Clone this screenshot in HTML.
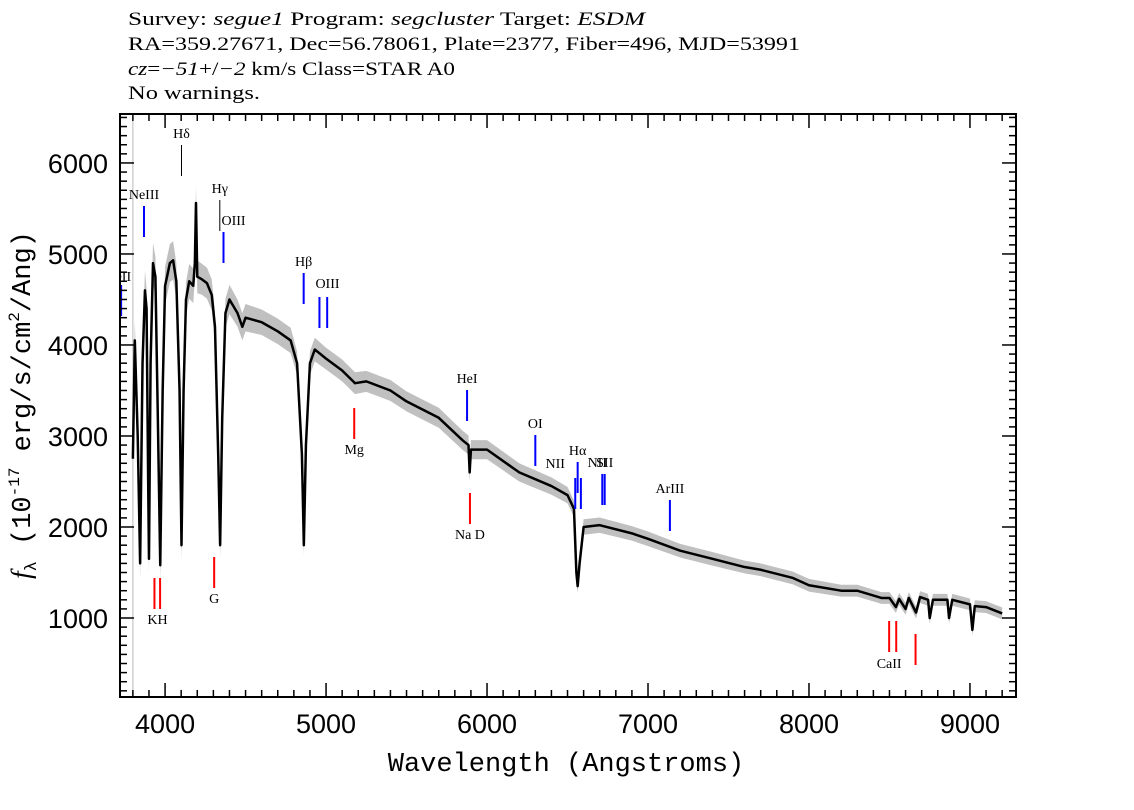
<!DOCTYPE html>
<html><head><meta charset="utf-8"><style>
body{margin:0;background:#fff;}
svg{display:block;}
</style></head><body>
<svg id="chart" width="1134" height="810" viewBox="0 0 1134 810" xmlns="http://www.w3.org/2000/svg">
<defs><clipPath id="pc"><rect x="120" y="114" width="896" height="583"/></clipPath></defs>
<g font-family="Liberation Serif, serif" font-size="19" fill="#000">
<text x="128" y="25" textLength="517" lengthAdjust="spacingAndGlyphs">Survey: <tspan font-style="italic">segue1</tspan> Program: <tspan font-style="italic">segcluster</tspan> Target: <tspan font-style="italic">ESDM</tspan></text>
<text x="128" y="50" textLength="672" lengthAdjust="spacingAndGlyphs">RA=359.27671, Dec=56.78061, Plate=2377, Fiber=496, MJD=53991</text>
<text x="128" y="75" textLength="327" lengthAdjust="spacingAndGlyphs"><tspan font-style="italic">cz</tspan>=<tspan font-style="italic">−51</tspan>+/<tspan font-style="italic">−2</tspan> km/s Class=STAR A0</text>
<text x="128" y="99" textLength="132" lengthAdjust="spacingAndGlyphs">No warnings.</text>
</g>
<g id="plot" clip-path="url(#pc)"></g>
<g id="ann" clip-path="url(#pc)" font-family="Liberation Serif, serif" font-size="14"></g>
<rect x="120" y="114" width="896" height="583" fill="none" stroke="#000" stroke-width="2"/>
<g id="axes"></g>
<text x="566" y="771" text-anchor="middle" font-family="Liberation Mono, monospace" font-size="27">Wavelength (Angstroms)</text>
<text transform="translate(30,405) rotate(-90)" text-anchor="middle" font-family="Liberation Mono, monospace" font-size="27"><tspan font-style="italic" font-family="Liberation Serif, serif">f</tspan><tspan font-size="17" dy="6">λ</tspan><tspan dy="-6"> (10</tspan><tspan font-size="16" dy="-11">-17</tspan><tspan dy="11"> erg/s/cm</tspan><tspan font-size="16" dy="-11">2</tspan><tspan dy="11">/Ang)</tspan></text>
</svg>
<script>
const waves=[3800,3812,3830,3845,3860,3875,3885,3895,3900,3910,3925,3940,3955,3970,3985,4000,4030,4050,4070,4090,4102,4115,4130,4150,4175,4185,4192,4200,4230,4260,4290,4310,4330,4342,4355,4375,4400,4450,4480,4500,4600,4700,4780,4820,4850,4862,4875,4900,4930,5000,5100,5180,5250,5400,5500,5700,5850,5885,5892,5900,6000,6200,6400,6500,6540,6555,6563,6575,6600,6700,6900,7000,7200,7400,7600,7700,7900,8000,8200,8300,8450,8500,8540,8560,8600,8620,8665,8690,8740,8750,8770,8860,8870,8890,9000,9015,9030,9100,9200];
const flux=[2750,4050,3000,1600,3800,4600,4400,2500,1650,3800,4900,4750,3200,1580,3500,4650,4900,4930,4700,3500,1800,3500,4500,4700,4650,4900,5560,4750,4720,4680,4550,4200,2800,1800,3200,4350,4500,4350,4200,4300,4250,4150,4050,3800,2800,1800,2900,3800,3950,3850,3720,3580,3600,3500,3380,3200,2950,2900,2600,2850,2850,2600,2450,2350,2200,1500,1350,1600,2000,2020,1930,1870,1740,1650,1560,1530,1440,1360,1300,1300,1220,1220,1120,1210,1100,1220,1060,1230,1200,1000,1200,1200,1000,1200,1150,870,1130,1120,1050];
const errs=[220,220,200,170,200,220,220,200,170,190,220,220,190,170,190,210,210,210,200,180,170,180,190,190,190,190,190,180,170,170,170,160,150,140,150,160,160,150,150,150,140,140,140,130,120,110,120,130,130,120,120,120,115,115,110,110,105,105,100,105,105,100,95,90,90,80,75,80,85,85,80,80,75,75,70,70,70,70,65,65,65,65,65,65,65,65,65,65,65,65,65,65,65,65,65,65,65,65,65];
const xTicks=[4000,5000,6000,7000,8000,9000];
const yTicks=[1000,2000,3000,4000,5000,6000];
const lineWaves=[3727,3869,4102,4340,4363,4861,4959,5007,5876,6300,6548,6563,6583,6716,6731,7136,3934,3969,4305,5175,5894,8498,8542,8662];
const lineNames=["OII","NeIII","Hδ","Hγ","OIII","Hβ","OIII","","HeI","OI","NII","Hα","","NII","SII","ArIII","K","H","G","Mg","Na  D","CaII","",""];
const lineKinds=["b","b","k","k","b","b","b","b","b","b","b","b","b","b","b","b","r","r","r","r","r","r","r","r"];
const lineTop=[285,206,145,200,232,273,297,297,390,435,478,462,478,474,474,500,578,578,557,408,493,621,621,634];
const xmin=3720,xmax=9286,ymin=132,ymax=6538;
const X=w=>120+(w-xmin)/(xmax-xmin)*896;
const Y=f=>697-(f-ymin)/(ymax-ymin)*583;
const NS="http://www.w3.org/2000/svg";
function mk(t,a,p){const e=document.createElementNS(NS,t);for(const k in a)e.setAttribute(k,a[k]);p.appendChild(e);return e;}
const plot=document.getElementById('plot'),axes=document.getElementById('axes'),ann=document.getElementById('ann');
const gl=mk('line',{x1:X(3800),x2:X(3800),y1:114,y2:697,stroke:'#bbb','stroke-width':1},plot);


let up=waves.map((w,i)=>X(w)+','+Y(flux[i]+errs[i])).join(' ');
let dn=waves.map((w,i)=>X(w)+','+Y(flux[i]-errs[i])).reverse().join(' ');
const band=mk('polygon',{points:up+' '+dn,fill:'#c0c0c0'},plot);


const sp=mk('polyline',{points:waves.map((w,i)=>X(w)+','+Y(flux[i])).join(' '),fill:'none',stroke:'#000','stroke-width':2.5,'stroke-linejoin':'round'},plot);


const col={b:'#0000ff',k:'#000',r:'#ff0000'};
lineWaves.forEach((w,i)=>{
 const x=X(w),t=lineTop[i],k=lineKinds[i];
 const l=mk('line',{x1:x,x2:x,y1:t,y2:t+31,stroke:col[k],'stroke-width':k=='k'?1:2},ann);
 
 
 if(lineNames[i]){
  let ty=k=='r'?t+46:t-7;
  if(lineNames[i]=="H")return;
  const tx=mk('text',{x:x,y:ty,'text-anchor':'middle'},ann);
  tx.textContent=lineNames[i]=="K"?"KH":lineNames[i];
  if(lineNames[i]=="K"){tx.setAttribute('x',x+3);}
  if(lineNames[i]=="OIII"&&w==4363){tx.setAttribute('text-anchor','start');tx.setAttribute('x',x-2);}
  if(lineNames[i]=="OIII"&&w==4959){tx.setAttribute('text-anchor','start');tx.setAttribute('x',x-4);tx.setAttribute('y',t-9);}
  if(lineNames[i]=="OII"){tx.setAttribute('text-anchor','end');tx.setAttribute('x',x+10);tx.setAttribute('y',t-4);}
  if(lineNames[i]=="NII"&&w==6548){tx.setAttribute('x',x-20);tx.setAttribute('y',t-10);}
  if(lineNames[i]=="NII"&&w==6716){tx.setAttribute('x',x-5);}
  if(lineNames[i]=="CaII"){tx.setAttribute('x',x);tx.setAttribute('y',t+47);}
  if(lineNames[i]=="Na  D"){tx.setAttribute('xml:space','preserve');}
  
  
 }
});
for(let w=3800;w<=9200;w+=100){
 const x=X(w),maj=w%1000==0,len=maj?14:7;
 const a=mk('line',{x1:x,x2:x,y1:697,y2:697-len,stroke:'#000','stroke-width':1.5},axes);
 
 
 const b=mk('line',{x1:x,x2:x,y1:114,y2:114+len,stroke:'#000','stroke-width':1.5},axes);
 
 
}
xTicks.forEach(v=>{
 const t=mk('text',{x:X(v),y:733,'text-anchor':'middle','font-family':'Liberation Sans, sans-serif','font-size':27},axes);
 t.textContent=v;
 
 
});
for(let f=200;f<=6500;f+=100){
 const y=Y(f),maj=f%1000==0,len=maj?14:7;
 const a=mk('line',{x1:120,x2:120+len,y1:y,y2:y,stroke:'#000','stroke-width':1.5},axes);
 
 
 const b=mk('line',{x1:1016,x2:1016-len,y1:y,y2:y,stroke:'#000','stroke-width':1.5},axes);
 
 
}
yTicks.forEach(v=>{
 const t=mk('text',{x:108,y:Y(v)+10,'text-anchor':'end','font-family':'Liberation Sans, sans-serif','font-size':27},axes);
 t.textContent=v;
 
 
});
</script>
</body></html>
